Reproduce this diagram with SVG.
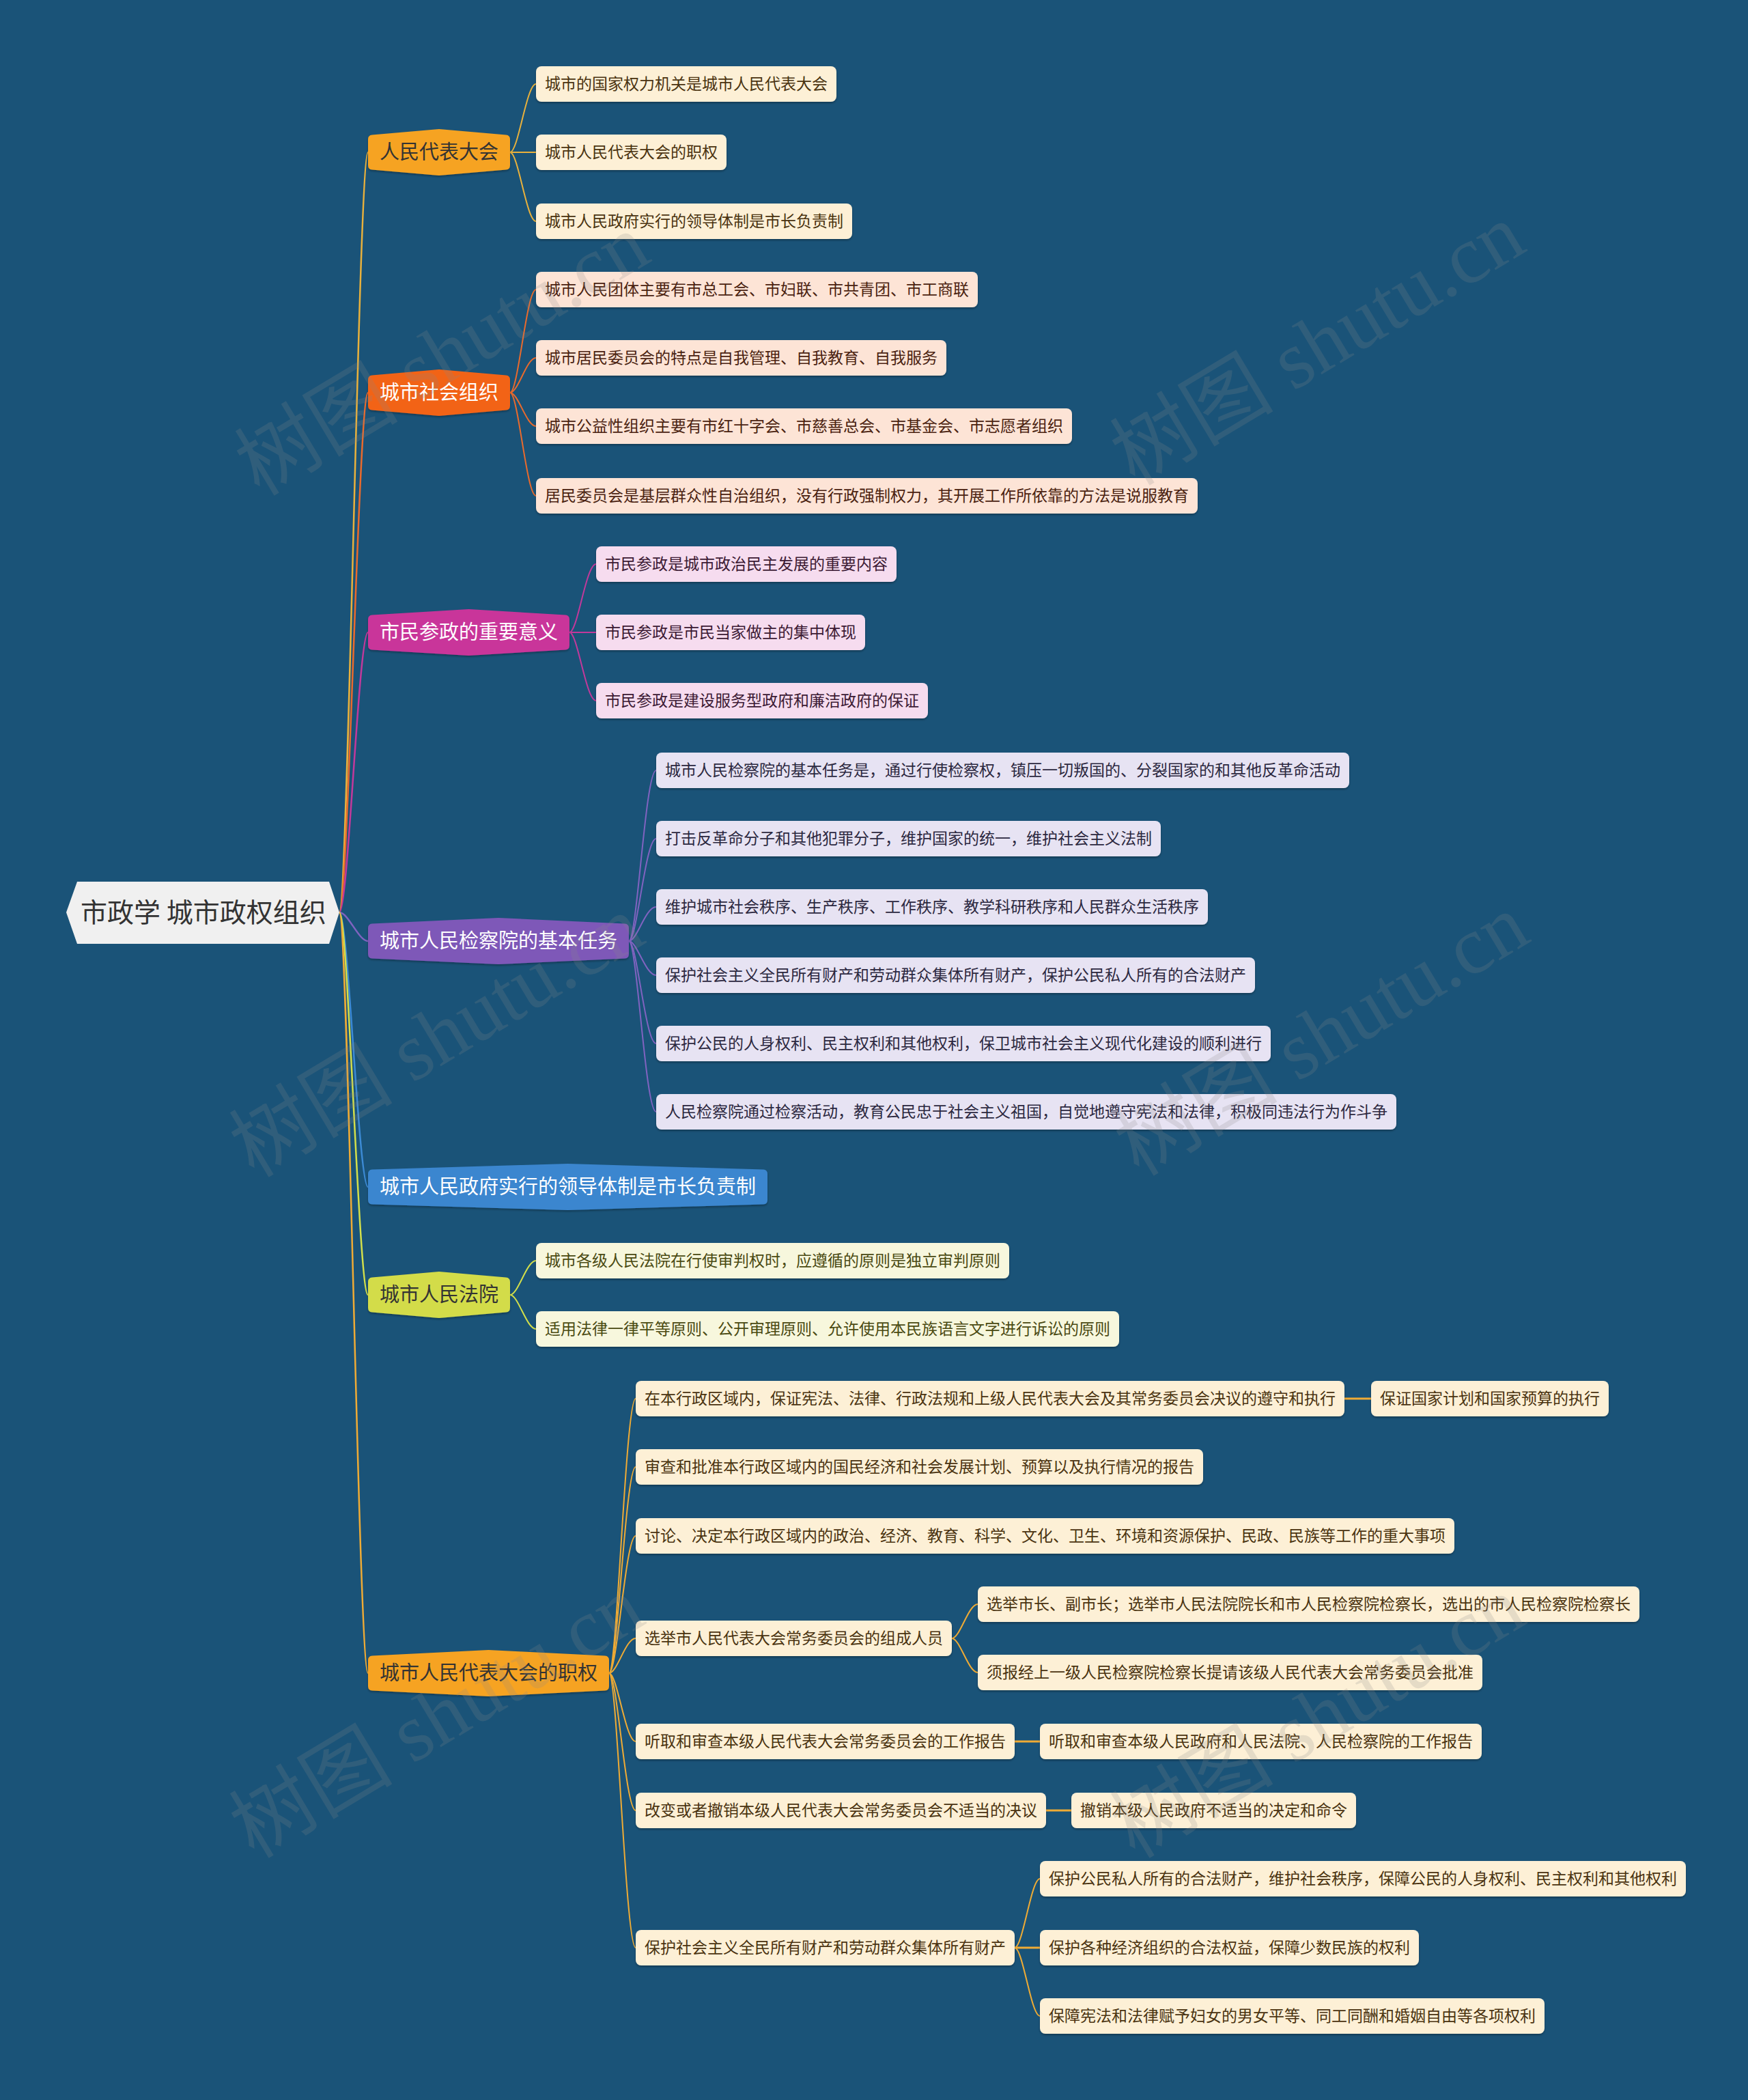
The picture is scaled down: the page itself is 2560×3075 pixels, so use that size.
<svg xmlns="http://www.w3.org/2000/svg" width="2560" height="3075" viewBox="0 0 2560 3075">
<defs>
<filter id="sh" x="-5%" y="-20%" width="110%" height="150%"><feDropShadow dx="0" dy="2" stdDeviation="1.5" flood-color="#000" flood-opacity="0.3"/></filter>
<style>
text{font-family:"Noto Sans CJK SC","Noto Sans",sans-serif;}
.lt{font-size:23px;}
.bt{font-size:29px;}
.leaf{filter:url(#sh);}
.wm{font-family:"Liberation Serif","Noto Sans CJK SC",serif;font-size:120px;fill:#8a8a8a;opacity:0.2;text-anchor:middle;}
.c{fill:none;stroke-width:2;}
.c1{stroke:#e9b13c;}.c2{stroke:#ea6a2c;}.c3{stroke:#c2399b;}.c4{stroke:#8063c0;}.c5{stroke:#3c8ad4;}.c6{stroke:#d3df4a;}.c7{stroke:#efab35;}
.f1{fill:#fdf0d6;}.f2{fill:#fde4d6;}.f3{fill:#f6dcef;}.f4{fill:#e7e3f3;}.f6{fill:#f7f7dd;}
.t1{fill:#4a3310;}.t2{fill:#4a2210;}.t3{fill:#3c1a34;}.t4{fill:#2c2840;}.t6{fill:#4a4a12;}
</style>
</defs>
<rect x="0" y="0" width="2560" height="3075" fill="#1a5378"/>

<g id="connectors">
<path class="c c1" style="stroke-width:2.5" d="M497,1336 C510,1336 525,223 539,223"/>
<path class="c c2" style="stroke-width:2.5" d="M497,1336 C510,1336 525,575 539,575"/>
<path class="c c3" style="stroke-width:2.5" d="M497,1336 C510,1336 525,926 539,926"/>
<path class="c c4" style="stroke-width:2.5" d="M497,1336 C510,1336 525,1378 539,1378"/>
<path class="c c5" style="stroke-width:2.5" d="M497,1336 C510,1336 525,1738 539,1738"/>
<path class="c c6" style="stroke-width:2.5" d="M497,1336 C510,1336 525,1896 539,1896"/>
<path class="c c7" style="stroke-width:2.5" d="M497,1336 C510,1336 525,2450 539,2450"/>

<path class="c c1" d="M747,223 C759,223 771,123 785,123"/>
<path class="c c1" d="M747,223 L785,223"/>
<path class="c c1" d="M747,223 C759,223 771,324 785,324"/>

<path class="c c2" d="M747,575 C759,575 771,424 785,424"/>
<path class="c c2" d="M747,575 C759,575 771,524 785,524"/>
<path class="c c2" d="M747,575 C759,575 771,624 785,624"/>
<path class="c c2" d="M747,575 C759,575 771,726 785,726"/>

<path class="c c3" d="M834,926 C846,926 858,826 873,826"/>
<path class="c c3" d="M834,926 L873,926"/>
<path class="c c3" d="M834,926 C846,926 858,1026 873,1026"/>

<path class="c c4" d="M921,1378 C933,1378 945,1128 961,1128"/>
<path class="c c4" d="M921,1378 C933,1378 945,1228 961,1228"/>
<path class="c c4" d="M921,1378 C933,1378 945,1328 961,1328"/>
<path class="c c4" d="M921,1378 C933,1378 945,1428 961,1428"/>
<path class="c c4" d="M921,1378 C933,1378 945,1528 961,1528"/>
<path class="c c4" d="M921,1378 C933,1378 945,1628 961,1628"/>

<path class="c c6" d="M747,1896 C759,1896 771,1846 785,1846"/>
<path class="c c6" d="M747,1896 C759,1896 771,1946 785,1946"/>

<path class="c c7" d="M892,2450 C904,2450 916,2048 931,2048"/>
<path class="c c7" d="M892,2450 C904,2450 916,2148 931,2148"/>
<path class="c c7" d="M892,2450 C904,2450 916,2249 931,2249"/>
<path class="c c7" d="M892,2450 C904,2450 916,2399 931,2399"/>
<path class="c c7" d="M892,2450 C904,2450 916,2550 931,2550"/>
<path class="c c7" d="M892,2450 C904,2450 916,2651 931,2651"/>
<path class="c c7" d="M892,2450 C904,2450 916,2852 931,2852"/>

<path class="c c7" style="stroke-width:3" d="M1969,2048 L2008,2048"/>
<path class="c c7" d="M1394,2399 C1406,2399 1418,2349 1432,2349"/>
<path class="c c7" d="M1394,2399 C1406,2399 1418,2449 1432,2449"/>
<path class="c c7" style="stroke-width:3" d="M1486,2550 L1523,2550"/>
<path class="c c7" style="stroke-width:3" d="M1532,2651 L1569,2651"/>
<path class="c c7" d="M1486,2852 C1498,2852 1510,2751 1523,2751"/>
<path class="c c7" style="stroke-width:3" d="M1486,2852 L1523,2852"/>
<path class="c c7" d="M1486,2852 C1498,2852 1510,2952 1523,2952"/>
</g>

<g id="root">
<polygon points="97,1336 113,1291 482,1291 497,1336 482,1382 113,1382" fill="#f0f0f0"/>
<text x="118" y="1350" style="font-size:39px" fill="#333333">市政学 城市政权组织</text>
</g>

<g id="b1" transform="translate(539,223)">
<path class="leaf" fill="#f6a321" d="M0,-19 Q0,-25 6,-25.5 L104,-34 L202,-25.5 Q208,-25 208,-19 L208,19 Q208,25 202,25.5 L104,34 L6,25.5 Q0,25 0,19 Z"/>
<text class="bt" x="17" y="10" fill="#333333">人民代表大会</text>
</g>
<g id="b1-1" transform="translate(785,123)"><rect class="leaf f1" x="0" y="-26" width="440" height="52" rx="8"/><text class="lt t1" x="13" y="8">城市的国家权力机关是城市人民代表大会</text></g>
<g id="b1-2" transform="translate(785,223)"><rect class="leaf f1" x="0" y="-26" width="279" height="52" rx="8"/><text class="lt t1" x="13" y="8">城市人民代表大会的职权</text></g>
<g id="b1-3" transform="translate(785,324)"><rect class="leaf f1" x="0" y="-26" width="463" height="52" rx="8"/><text class="lt t1" x="13" y="8">城市人民政府实行的领导体制是市长负责制</text></g>

<g id="b2" transform="translate(539,575)">
<path class="leaf" fill="#f26318" d="M0,-19 Q0,-25 6,-25.5 L104,-34 L202,-25.5 Q208,-25 208,-19 L208,19 Q208,25 202,25.5 L104,34 L6,25.5 Q0,25 0,19 Z"/>
<text class="bt" x="17" y="10" fill="#ffffff">城市社会组织</text>
</g>
<g id="b2-1" transform="translate(785,424)"><rect class="leaf f2" x="0" y="-26" width="647" height="52" rx="8"/><text class="lt t2" x="13" y="8">城市人民团体主要有市总工会、市妇联、市共青团、市工商联</text></g>
<g id="b2-2" transform="translate(785,524)"><rect class="leaf f2" x="0" y="-26" width="601" height="52" rx="8"/><text class="lt t2" x="13" y="8">城市居民委员会的特点是自我管理、自我教育、自我服务</text></g>
<g id="b2-3" transform="translate(785,624)"><rect class="leaf f2" x="0" y="-26" width="785" height="52" rx="8"/><text class="lt t2" x="13" y="8">城市公益性组织主要有市红十字会、市慈善总会、市基金会、市志愿者组织</text></g>
<g id="b2-4" transform="translate(785,726)"><rect class="leaf f2" x="0" y="-26" width="969" height="52" rx="8"/><text class="lt t2" x="13" y="8">居民委员会是基层群众性自治组织，没有行政强制权力，其开展工作所依靠的方法是说服教育</text></g>

<g id="b3" transform="translate(539,926)">
<path class="leaf" fill="#c9359a" d="M0,-19 Q0,-25 6,-25.5 L147.5,-34 L289,-25.5 Q295,-25 295,-19 L295,19 Q295,25 289,25.5 L147.5,34 L6,25.5 Q0,25 0,19 Z"/>
<text class="bt" x="17" y="10" fill="#ffffff">市民参政的重要意义</text>
</g>
<g id="b3-1" transform="translate(873,826)"><rect class="leaf f3" x="0" y="-26" width="440" height="52" rx="8"/><text class="lt t3" x="13" y="8">市民参政是城市政治民主发展的重要内容</text></g>
<g id="b3-2" transform="translate(873,926)"><rect class="leaf f3" x="0" y="-26" width="394" height="52" rx="8"/><text class="lt t3" x="13" y="8">市民参政是市民当家做主的集中体现</text></g>
<g id="b3-3" transform="translate(873,1026)"><rect class="leaf f3" x="0" y="-26" width="486" height="52" rx="8"/><text class="lt t3" x="13" y="8">市民参政是建设服务型政府和廉洁政府的保证</text></g>

<g id="b4" transform="translate(539,1378)">
<path class="leaf" fill="#7e58b8" d="M0,-19 Q0,-25 6,-25.5 L191,-34 L376,-25.5 Q382,-25 382,-19 L382,19 Q382,25 376,25.5 L191,34 L6,25.5 Q0,25 0,19 Z"/>
<text class="bt" x="17" y="10" fill="#ffffff">城市人民检察院的基本任务</text>
</g>
<g id="b4-1" transform="translate(961,1128)"><rect class="leaf f4" x="0" y="-26" width="1015" height="52" rx="8"/><text class="lt t4" x="13" y="8">城市人民检察院的基本任务是，通过行使检察权，镇压一切叛国的、分裂国家的和其他反革命活动</text></g>
<g id="b4-2" transform="translate(961,1228)"><rect class="leaf f4" x="0" y="-26" width="739" height="52" rx="8"/><text class="lt t4" x="13" y="8">打击反革命分子和其他犯罪分子，维护国家的统一，维护社会主义法制</text></g>
<g id="b4-3" transform="translate(961,1328)"><rect class="leaf f4" x="0" y="-26" width="808" height="52" rx="8"/><text class="lt t4" x="13" y="8">维护城市社会秩序、生产秩序、工作秩序、教学科研秩序和人民群众生活秩序</text></g>
<g id="b4-4" transform="translate(961,1428)"><rect class="leaf f4" x="0" y="-26" width="877" height="52" rx="8"/><text class="lt t4" x="13" y="8">保护社会主义全民所有财产和劳动群众集体所有财产，保护公民私人所有的合法财产</text></g>
<g id="b4-5" transform="translate(961,1528)"><rect class="leaf f4" x="0" y="-26" width="900" height="52" rx="8"/><text class="lt t4" x="13" y="8">保护公民的人身权利、民主权利和其他权利，保卫城市社会主义现代化建设的顺利进行</text></g>
<g id="b4-6" transform="translate(961,1628)"><rect class="leaf f4" x="0" y="-26" width="1084" height="52" rx="8"/><text class="lt t4" x="13" y="8">人民检察院通过检察活动，教育公民忠于社会主义祖国，自觉地遵守宪法和法律，积极同违法行为作斗争</text></g>

<g id="b5" transform="translate(539,1738)">
<path class="leaf" fill="#3b86cf" d="M0,-19 Q0,-25 6,-25.5 L292.5,-34 L579,-25.5 Q585,-25 585,-19 L585,19 Q585,25 579,25.5 L292.5,34 L6,25.5 Q0,25 0,19 Z"/>
<text class="bt" x="17" y="10" fill="#ffffff">城市人民政府实行的领导体制是市长负责制</text>
</g>

<g id="b6" transform="translate(539,1896)">
<path class="leaf" fill="#d3dc48" d="M0,-19 Q0,-25 6,-25.5 L104,-34 L202,-25.5 Q208,-25 208,-19 L208,19 Q208,25 202,25.5 L104,34 L6,25.5 Q0,25 0,19 Z"/>
<text class="bt" x="17" y="10" fill="#333333">城市人民法院</text>
</g>
<g id="b6-1" transform="translate(785,1846)"><rect class="leaf f6" x="0" y="-26" width="693" height="52" rx="8"/><text class="lt t6" x="13" y="8">城市各级人民法院在行使审判权时，应遵循的原则是独立审判原则</text></g>
<g id="b6-2" transform="translate(785,1946)"><rect class="leaf f6" x="0" y="-26" width="854" height="52" rx="8"/><text class="lt t6" x="13" y="8">适用法律一律平等原则、公开审理原则、允许使用本民族语言文字进行诉讼的原则</text></g>

<g id="b7" transform="translate(539,2450)">
<path class="leaf" fill="#f6a321" d="M0,-19 Q0,-25 6,-25.5 L176.5,-34 L347,-25.5 Q353,-25 353,-19 L353,19 Q353,25 347,25.5 L176.5,34 L6,25.5 Q0,25 0,19 Z"/>
<text class="bt" x="17" y="10" fill="#333333">城市人民代表大会的职权</text>
</g>
<g id="b7-1" transform="translate(931,2048)"><rect class="leaf f1" x="0" y="-26" width="1038" height="52" rx="8"/><text class="lt t1" x="13" y="8">在本行政区域内，保证宪法、法律、行政法规和上级人民代表大会及其常务委员会决议的遵守和执行</text></g>
<g id="b7-1-1" transform="translate(2008,2048)"><rect class="leaf f1" x="0" y="-26" width="348" height="52" rx="8"/><text class="lt t1" x="13" y="8">保证国家计划和国家预算的执行</text></g>
<g id="b7-2" transform="translate(931,2148)"><rect class="leaf f1" x="0" y="-26" width="831" height="52" rx="8"/><text class="lt t1" x="13" y="8">审查和批准本行政区域内的国民经济和社会发展计划、预算以及执行情况的报告</text></g>
<g id="b7-3" transform="translate(931,2249)"><rect class="leaf f1" x="0" y="-26" width="1199" height="52" rx="8"/><text class="lt t1" x="13" y="8">讨论、决定本行政区域内的政治、经济、教育、科学、文化、卫生、环境和资源保护、民政、民族等工作的重大事项</text></g>
<g id="b7-4" transform="translate(931,2399)"><rect class="leaf f1" x="0" y="-26" width="463" height="52" rx="8"/><text class="lt t1" x="13" y="8">选举市人民代表大会常务委员会的组成人员</text></g>
<g id="b7-4-1" transform="translate(1432,2349)"><rect class="leaf f1" x="0" y="-26" width="969" height="52" rx="8"/><text class="lt t1" x="13" y="8">选举市长、副市长；选举市人民法院院长和市人民检察院检察长，选出的市人民检察院检察长</text></g>
<g id="b7-4-2" transform="translate(1432,2449)"><rect class="leaf f1" x="0" y="-26" width="739" height="52" rx="8"/><text class="lt t1" x="13" y="8">须报经上一级人民检察院检察长提请该级人民代表大会常务委员会批准</text></g>
<g id="b7-5" transform="translate(931,2550)"><rect class="leaf f1" x="0" y="-26" width="555" height="52" rx="8"/><text class="lt t1" x="13" y="8">听取和审查本级人民代表大会常务委员会的工作报告</text></g>
<g id="b7-5-1" transform="translate(1523,2550)"><rect class="leaf f1" x="0" y="-26" width="647" height="52" rx="8"/><text class="lt t1" x="13" y="8">听取和审查本级人民政府和人民法院、人民检察院的工作报告</text></g>
<g id="b7-6" transform="translate(931,2651)"><rect class="leaf f1" x="0" y="-26" width="601" height="52" rx="8"/><text class="lt t1" x="13" y="8">改变或者撤销本级人民代表大会常务委员会不适当的决议</text></g>
<g id="b7-6-1" transform="translate(1569,2651)"><rect class="leaf f1" x="0" y="-26" width="417" height="52" rx="8"/><text class="lt t1" x="13" y="8">撤销本级人民政府不适当的决定和命令</text></g>
<g id="b7-7" transform="translate(931,2852)"><rect class="leaf f1" x="0" y="-26" width="555" height="52" rx="8"/><text class="lt t1" x="13" y="8">保护社会主义全民所有财产和劳动群众集体所有财产</text></g>
<g id="b7-7-1" transform="translate(1523,2751)"><rect class="leaf f1" x="0" y="-26" width="946" height="52" rx="8"/><text class="lt t1" x="13" y="8">保护公民私人所有的合法财产，维护社会秩序，保障公民的人身权利、民主权利和其他权利</text></g>
<g id="b7-7-2" transform="translate(1523,2852)"><rect class="leaf f1" x="0" y="-26" width="555" height="52" rx="8"/><text class="lt t1" x="13" y="8">保护各种经济组织的合法权益，保障少数民族的权利</text></g>
<g id="b7-7-3" transform="translate(1523,2952)"><rect class="leaf f1" x="0" y="-26" width="739" height="52" rx="8"/><text class="lt t1" x="13" y="8">保障宪法和法律赋予妇女的男女平等、同工同酬和婚姻自由等各项权利</text></g>

<g id="watermarks">
<text class="wm" x="648" y="560" transform="rotate(-31 648 520)">树图 shutu.cn</text>
<text class="wm" x="1930" y="545" transform="rotate(-31 1930 505)">树图 shutu.cn</text>
<text class="wm" x="640" y="1558" transform="rotate(-31 640 1518)">树图 shutu.cn</text>
<text class="wm" x="1936" y="1556" transform="rotate(-31 1936 1516)">树图 shutu.cn</text>
<text class="wm" x="640" y="2555" transform="rotate(-31 640 2515)">树图 shutu.cn</text>
<text class="wm" x="1930" y="2555" transform="rotate(-31 1930 2515)">树图 shutu.cn</text>
</g>
</svg>
